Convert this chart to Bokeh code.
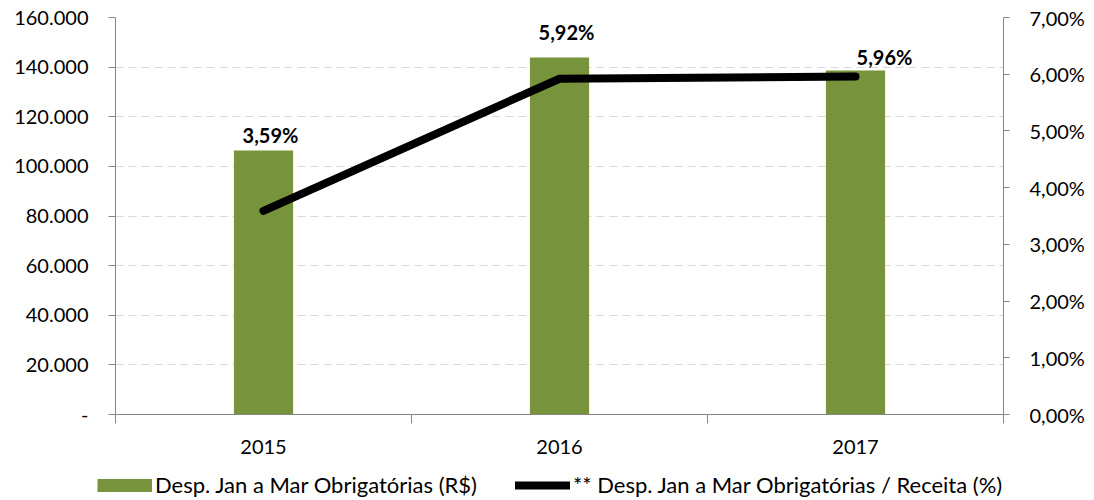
from bokeh.plotting import figure
from bokeh.layouts import column
from bokeh.models import Range1d, LinearAxis, FixedTicker, Legend, LegendItem
from bokeh.core.properties import value
from bokeh.embed import file_html
from bokeh.resources import INLINE
import numpy as np

years = ["2015", "2016", "2017"]
despesas = [106400, 143900, 138600]
percent = [3.59, 5.92, 5.96]
pct_labels = ["3,59%", "5,92%", "5,96%"]
left_ticks = [0, 20000, 40000, 60000, 80000, 100000, 120000, 140000, 160000]
left_tick_labels = ["-", "20.000", "40.000", "60.000", "80.000", "100.000", "120.000", "140.000", "160.000"]
right_ticks = [0, 1, 2, 3, 4, 5, 6, 7]
right_tick_labels = ["0,00%", "1,00%", "2,00%", "3,00%", "4,00%", "5,00%", "6,00%", "7,00%"]
legend_labels = ["Desp. Jan a Mar Obrigatórias (R$)", "** Desp. Jan a Mar Obrigatórias / Receita (%)"]

# label nudges (style only, pixels)
label_dx = [7, 7, 29]
label_dy = [-3, -13, -2]

FONT = "Lato"
AXIS_COLOR = "#868686"
GREEN = "#77933C"

x = np.arange(len(years)) + 0.5

p = figure(frame_width=888, frame_height=397,
           x_range=Range1d(0, len(years)), y_range=Range1d(left_ticks[0], left_ticks[-1]),
           output_backend="svg", toolbar_location=None,
           min_border_left=115, min_border_right=88, min_border_top=17, min_border_bottom=48)
p.frame_align = False
p.outline_line_color = None
p.xgrid.visible = False
p.ygrid.ticker = FixedTicker(ticks=left_ticks)
p.ygrid.grid_line_color = "#d9d9d9"
p.ygrid.grid_line_dash = "8 5"
p.ygrid.grid_line_width = 1

# left axis
ya = p.yaxis[0]
ya.ticker = FixedTicker(ticks=left_ticks)
ya.major_label_overrides = {t: l for t, l in zip(left_ticks, left_tick_labels)}
ya.axis_line_color = AXIS_COLOR
ya.major_tick_line_color = AXIS_COLOR
ya.major_tick_out = 7
ya.major_tick_in = 0
ya.minor_tick_line_color = None
ya.major_label_text_font = FONT
ya.major_label_text_font_size = "20px"
ya.major_label_text_color = "black"
ya.major_label_standoff = 20

# bottom axis
xa = p.xaxis[0]
xa.ticker = FixedTicker(ticks=list(x), minor_ticks=list(range(len(years) + 1)))
xa.major_label_overrides = {float(t): y for t, y in zip(x, years)}
xa.axis_line_color = AXIS_COLOR
xa.major_tick_line_color = None
xa.major_tick_out = 0
xa.major_tick_in = 0
xa.minor_tick_line_color = AXIS_COLOR
xa.minor_tick_out = 9
xa.minor_tick_in = 0
xa.major_label_text_font = FONT
xa.major_label_text_font_size = "20px"
xa.major_label_text_color = "black"
xa.major_label_standoff = 16

# right axis
p.extra_y_ranges = {"pct": Range1d(right_ticks[0], right_ticks[-1])}
ra = LinearAxis(y_range_name="pct", ticker=FixedTicker(ticks=right_ticks))
ra.major_label_overrides = {t: l for t, l in zip(right_ticks, right_tick_labels)}
ra.axis_line_color = AXIS_COLOR
ra.major_tick_line_color = AXIS_COLOR
ra.major_tick_out = 6
ra.major_tick_in = 0
ra.minor_tick_line_color = None
ra.major_label_text_font = FONT
ra.major_label_text_font_size = "20px"
ra.major_label_text_color = "black"
ra.major_label_standoff = 20
p.add_layout(ra, "right")

p.vbar(x=x, top=despesas, width=0.2, fill_color=GREEN, line_color=None)
p.line(x=x, y=percent, y_range_name="pct", line_width=8, line_color="black",
       line_cap="round", line_join="round")

p.text(x=x, y=despesas, text=pct_labels, x_offset=label_dx, y_offset=label_dy,
       text_font=value(FONT), text_font_style="bold", text_font_size="20px",
       text_align="center", text_baseline="bottom", text_color="black")

# legend strip below the chart (dummy zero-size renderers provide the swatches)
lg = figure(width=1091, height=38, x_range=Range1d(0, 1), y_range=Range1d(0, 1),
            x_axis_location=None, y_axis_location=None, output_backend="svg",
            toolbar_location=None, min_border=0)
lg.frame_align = False
lg.outline_line_color = None
lg.grid.visible = False
r_bar = lg.line(x=[0], y=[0], line_width=13, line_color=GREEN, line_cap="butt")
r_line = lg.line(x=[0], y=[0], line_width=8, line_color="black", line_cap="round")
legend = Legend(items=[LegendItem(label=legend_labels[0], renderers=[r_bar]),
                       LegendItem(label=legend_labels[1], renderers=[r_line])],
                orientation="horizontal", location=(97, 2),
                label_text_font=FONT, label_text_font_size="22px", label_text_color="black",
                label_height=20, glyph_width=55, glyph_height=14, label_standoff=3, spacing=38,
                border_line_color=None, background_fill_alpha=0, padding=0, margin=0)
lg.add_layout(legend, "center")

open("out.html", "w").write(file_html(column(p, lg, spacing=0), INLINE))
